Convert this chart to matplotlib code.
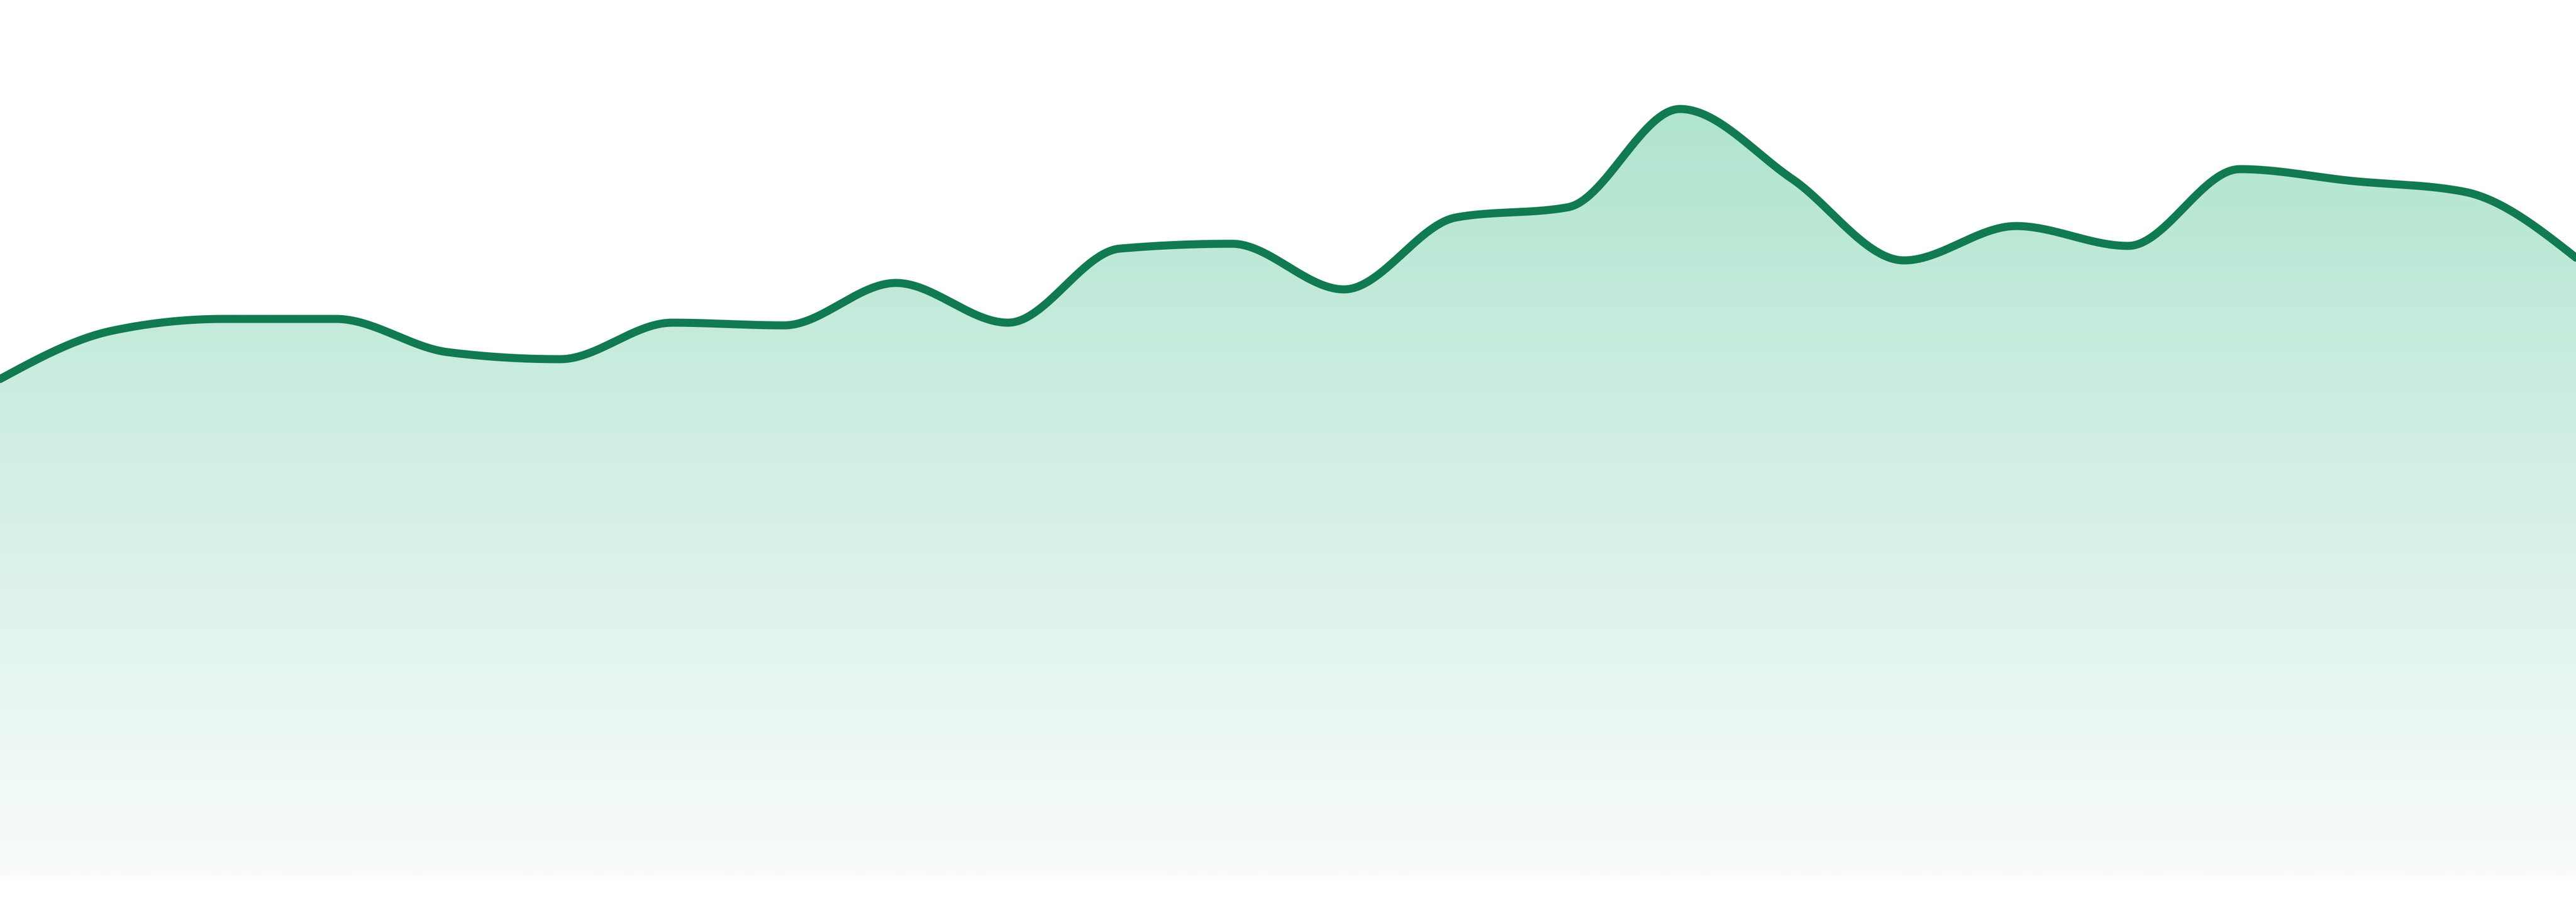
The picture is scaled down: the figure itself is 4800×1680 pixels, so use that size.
import numpy as np
import matplotlib
matplotlib.use("Agg")
import matplotlib.pyplot as plt
from matplotlib.colors import LinearSegmentedColormap

# one value per period
periods = np.arange(24)
values = [92.6, 101.6, 103.8, 103.8, 97.6, 96.3, 103.1, 102.6, 110.5, 103.1,
          116.9, 117.8, 109.3, 122.7, 124.6, 142.9, 129.9, 114.7, 121.1, 117.4,
          131.7, 129.5, 127.5, 115.2]

line_color = "#117a50"
fill_top = "#b0e4cf"
fill_bottom = "#f9fcfb"


def monotone_curve(x, y, n=60):
    # monotone cubic (Fritsch-Carlson style, like d3 curveMonotoneX)
    x = np.asarray(x, float)
    y = np.asarray(y, float)
    h = np.diff(x)
    s = np.diff(y) / h
    t = np.zeros_like(y)
    for i in range(1, len(y) - 1):
        s0, s1 = s[i - 1], s[i]
        p = (s0 * h[i] + s1 * h[i - 1]) / (h[i - 1] + h[i])
        t[i] = (np.sign(s0) + np.sign(s1)) * min(abs(s0), abs(s1), 0.5 * abs(p))
    t[0] = (3 * s[0] - t[1]) / 2
    t[-1] = (3 * s[-1] - t[-2]) / 2
    xs, ys = [], []
    for i in range(len(h)):
        u = np.linspace(0, 1, n, endpoint=(i == len(h) - 1))
        h00 = 2 * u**3 - 3 * u**2 + 1
        h10 = u**3 - 2 * u**2 + u
        h01 = -2 * u**3 + 3 * u**2
        h11 = u**3 - u**2
        xs.append(x[i] + u * h[i])
        ys.append(h00 * y[i] + h10 * h[i] * t[i] + h01 * y[i + 1] + h11 * h[i] * t[i + 1])
    return np.concatenate(xs), np.concatenate(ys)


cx, cy = monotone_curve(periods, values)

fig = plt.figure(figsize=(16, 5.6), dpi=300)
ax = fig.add_axes([0, 0, 1, 1])
ax.set_xlim(periods[0], periods[-1])
ax.set_ylim(-4.8, 163.2)
ax.axis("off")

# gradient fill under the curve
poly = ax.fill_between(cx, 0, cy, color="none", lw=0)
cmap = LinearSegmentedColormap.from_list("g", [fill_bottom, fill_top])
grad = np.linspace(0, 1, 512).reshape(-1, 1)
img = ax.imshow(grad, cmap=cmap, aspect="auto", origin="lower",
                extent=[periods[0], periods[-1], 0, max(values)],
                interpolation="bilinear", zorder=1)
clip = poly.get_paths()[0]
img.set_clip_path(clip, transform=ax.transData)

ax.plot(cx, cy, color=line_color, lw=3.6, solid_capstyle="round", zorder=3)

fig.savefig("out.png", dpi=300, facecolor="white")
